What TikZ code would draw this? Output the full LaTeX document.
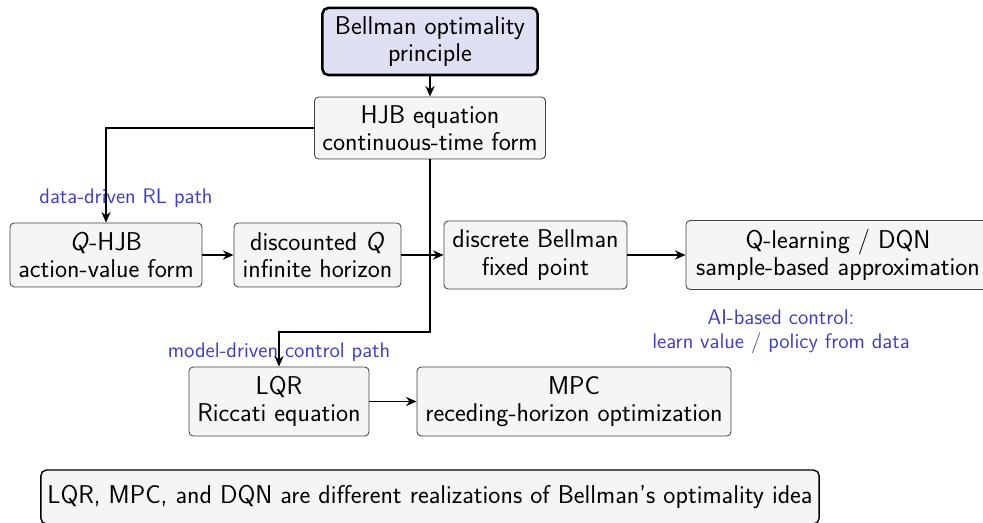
\documentclass[tikz,border=0pt]{standalone}
\usepackage{tikz}
\usetikzlibrary{positioning, arrows.meta}
\definecolor{pathblue}{HTML}{3C3CC8}
\definecolor{boxfill}{HTML}{F5F5F5}
\definecolor{rootfill}{HTML}{E0E0F4}

\begin{document}
\begin{tikzpicture}[x=0.025cm,y=-0.025cm,
  box/.style={draw=black!75,fill=boxfill,rounded corners=3pt,line width=0.6pt,align=center,inner sep=0pt,font=\sffamily\fontsize{18.3}{19.5}\selectfont},
  rootbox/.style={box,draw=black,fill=rootfill,line width=1.8pt,rounded corners=4pt},
  pathlabel/.style={text=pathblue,align=center,font=\sffamily\fontsize{15}{17.2}\selectfont},
  flow/.style={-{Stealth[length=7.5pt,width=6.5pt]},line width=1.4pt}]
\clip (0,0) rectangle (983,523);
% top of the chain
\node[rootbox,minimum width=5.375cm,minimum height=1.675cm] (bellman) at (430,41.5) {Bellman optimality\\principle};
\node[box,minimum width=5.775cm,minimum height=1.55cm] (hjb) at (430,128) {HJB equation\\continuous-time form};
% data-driven row
\node[box,minimum width=4.8cm,minimum height=1.6cm] (qhjb) at (106,255) {\textit{Q}-HJB\\action-value form};
\node[box,minimum width=4.175cm,minimum height=1.6cm] (discq) at (317.5,255) {discounted \textit{Q}\\infinite horizon};
\node[box,minimum width=4.575cm,minimum height=1.7cm] (fixpt) at (535.5,255) {discrete Bellman\\fixed point};
\node[box,minimum width=7.6cm,minimum height=1.725cm] (qlearn) at (838,255) {Q-learning / DQN\\sample-based approximation};
% model-driven row
\node[box,minimum width=4.5cm,minimum height=1.725cm] (lqr) at (279,401.5) {LQR\\Riccati equation};
\node[box,minimum width=7.85cm,minimum height=1.725cm] (mpc) at (574,401.5) {MPC\\receding-horizon optimization};
% summary
\node[box,draw=black,line width=1pt,rounded corners=4pt,minimum width=19.45cm,minimum height=1.35cm] (summary) at (430,497) {LQR, MPC, and DQN are different realizations of Bellman's optimality idea};
% labels
\node[pathlabel] (rllabel) at (126,198) {data-driven RL path};
\node[pathlabel] (ctrllabel) at (279,352) {model-driven control path};
\node[pathlabel] (ailabel) at (781,332) {AI-based control:\\learn value / policy from data};
% connectors
\coordinate (bend) at (430,332);
\draw[flow] (bellman) -- (hjb);
\draw[flow] (hjb.west) -| (qhjb.north);
\draw[flow] (hjb.south) -- (bend) -| (lqr.north);
\draw[flow] (qhjb) -- (discq);
\draw[flow] (discq) -- (fixpt);
\draw[flow] (fixpt) -- (qlearn);
\draw[flow] (lqr) -- (mpc);
\end{tikzpicture}
\end{document}
